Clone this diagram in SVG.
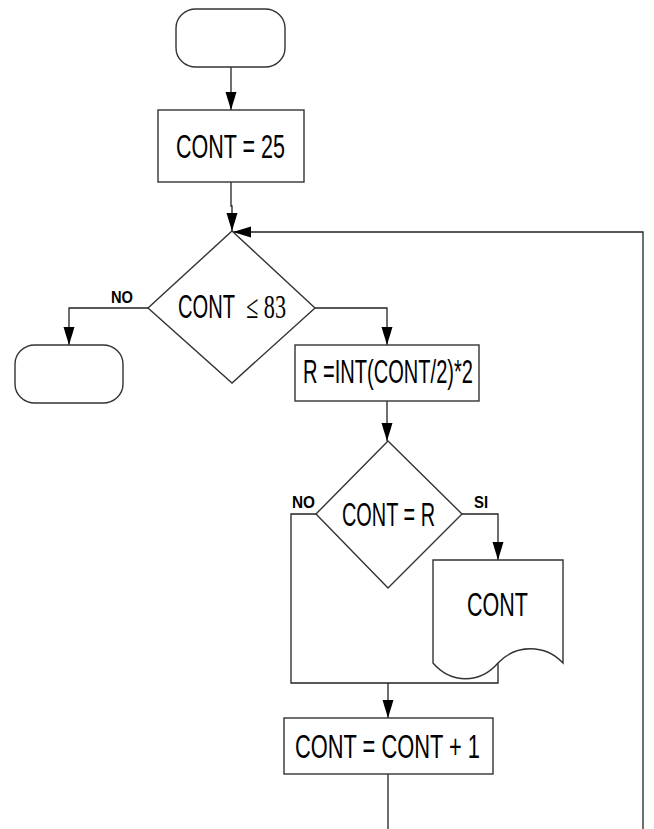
<svg xmlns="http://www.w3.org/2000/svg" width="654" height="829" viewBox="0 0 654 829">
<style>
.shape{fill:#fff;stroke:#333;stroke-width:1.4}
.conn{fill:none;stroke:#222;stroke-width:1.3}
.t{font-family:"Liberation Sans",Arial,sans-serif;font-size:34px;fill:#000}
.ts{font-family:"Liberation Serif","Times New Roman",serif;font-size:33px;fill:#000}
.lbl{font-family:"Liberation Sans",Arial,sans-serif;font-size:16px;font-weight:bold;fill:#000}
</style>
<defs>
<marker id="arr" markerUnits="userSpaceOnUse" markerWidth="18" markerHeight="12" refX="18" refY="5.5" orient="auto" viewBox="0 0 18 11">
<path d="M0,0 L18,5.5 L0,11 z" fill="#000"/>
</marker>
</defs>
<g id="connectors">
<path class="conn" d="M231,67 V110" marker-end="url(#arr)"/>
<path class="conn" d="M231,182 V206 H232 V231" marker-end="url(#arr)"/>
<path class="conn" d="M643,829 V232 H233" marker-end="url(#arr)"/>
<path class="conn" d="M148,308 H69 V345" marker-end="url(#arr)"/>
<path class="conn" d="M315,308 H387 V345" marker-end="url(#arr)"/>
<path class="conn" d="M387,401 V441" marker-end="url(#arr)"/>
<path class="conn" d="M316,514 H291 V683 H498 V663"/>
<path class="conn" d="M462,514 H498 V560" marker-end="url(#arr)"/>
<path class="conn" d="M388,683 V718" marker-end="url(#arr)"/>
<path class="conn" d="M388,774 V829"/>
<text class="lbl" x="111" y="303" textLength="22" lengthAdjust="spacingAndGlyphs">NO</text>
<text class="lbl" x="292" y="508" textLength="23" lengthAdjust="spacingAndGlyphs">NO</text>
<text class="lbl" x="474" y="508" textLength="14" lengthAdjust="spacingAndGlyphs">SI</text>
</g>
<g id="start">
<rect class="shape" x="176" y="9" width="109" height="58" rx="20" ry="19"/>
</g>
<g id="init">
<rect class="shape" x="158" y="110" width="146" height="72"/>
<text class="t" x="176" y="158" textLength="109" lengthAdjust="spacingAndGlyphs">CONT = 25</text>
</g>
<g id="cond1">
<polygon class="shape" points="232,231 315,308 232,383 148,308"/>
<text class="t" x="178" y="318" textLength="57" lengthAdjust="spacingAndGlyphs">CONT</text>
<text class="ts" x="246" y="318" textLength="40" lengthAdjust="spacingAndGlyphs">≤ 83</text>
</g>
<g id="end">
<rect class="shape" x="15" y="345" width="108" height="58" rx="20" ry="19"/>
</g>
<g id="calcR">
<rect class="shape" x="295" y="345" width="184" height="56"/>
<text class="t" x="303" y="383" textLength="170" lengthAdjust="spacingAndGlyphs">R =INT(CONT/2)*2</text>
</g>
<g id="cond2">
<polygon class="shape" points="388,441 462,514 388,588 316,514"/>
<text class="t" x="342" y="526" textLength="93" lengthAdjust="spacingAndGlyphs">CONT = R</text>
</g>
<g id="print">
<path class="shape" d="M433,560 H563 V663 C545,644 516,644 498,663 C480,684 451,684 433,663 Z"/>
<text class="t" x="467" y="616" textLength="61" lengthAdjust="spacingAndGlyphs">CONT</text>
</g>
<g id="incr">
<rect class="shape" x="284" y="718" width="209" height="56"/>
<text class="t" x="295" y="758" textLength="185" lengthAdjust="spacingAndGlyphs">CONT = CONT + 1</text>
</g>
</svg>
